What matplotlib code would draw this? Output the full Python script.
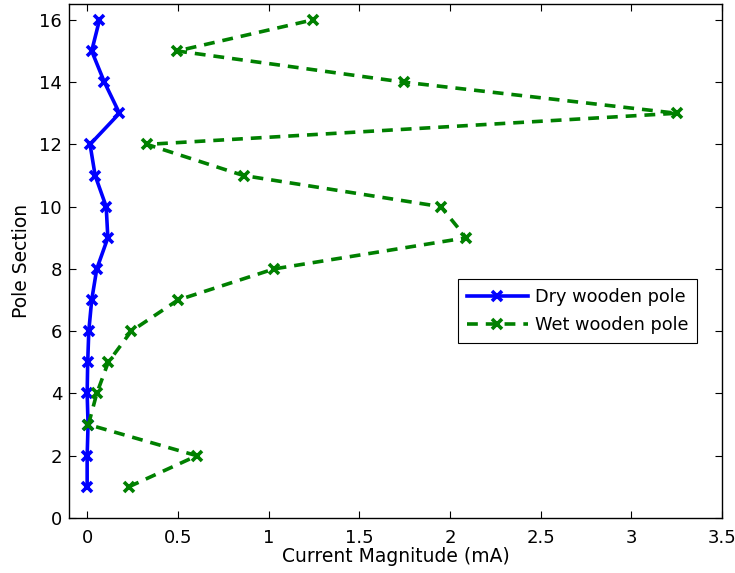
import matplotlib
matplotlib.use('Agg')
import matplotlib.pyplot as plt

plt.rcParams['font.family'] = ['DejaVu Sans']

sections = list(range(1, 17))
dry = [0.0, 0.0, 0.005, 0.0, 0.003, 0.009, 0.025, 0.053,
       0.114, 0.105, 0.044, 0.016, 0.178, 0.095, 0.025, 0.068]
wet = [0.229, 0.605, 0.007, 0.053, 0.116, 0.243, 0.50, 1.03,
       2.09, 1.95, 0.862, 0.33, 3.25, 1.745, 0.496, 1.244]

fig = plt.figure(figsize=(7.35, 5.73), dpi=100)
ax = fig.add_axes([0.0939, 0.096, 0.8884, 0.8965])

ax.plot(dry, sections, color='#0000ff', lw=2.6, marker='x', ms=7.5, mew=2.6,
        label='Dry wooden pole')
ax.plot(wet, sections, color='#008000', lw=2.6, ls='--', dashes=(3.0, 2.2),
        marker='x', ms=7.5, mew=2.6, label='Wet wooden pole')

ax.set_xlim(-0.1, 3.5)
ax.set_ylim(0, 16.5)
ax.set_xticks([0, 0.5, 1, 1.5, 2, 2.5, 3, 3.5])
ax.set_xticklabels(['0', '0.5', '1', '1.5', '2', '2.5', '3', '3.5'])
ax.set_yticks(range(0, 17, 2))
ax.tick_params(direction='in', top=True, right=True, length=5, width=0.8,
               labelsize=13)
ax.tick_params(axis='x', pad=8)
ax.tick_params(axis='y', pad=5)
for s in ax.spines.values():
    s.set_linewidth(1.0)

ax.set_xlabel('Current Magnitude (mA)', fontsize=13.5, labelpad=0)
ax.set_ylabel('Pole Section', fontsize=13.5, labelpad=6)

leg = ax.legend(loc='lower left', bbox_to_anchor=(0.596, 0.34), borderaxespad=0,
                fontsize=12.8, fancybox=False, edgecolor='black', framealpha=1,
                handlelength=3.4, handletextpad=0.4, borderpad=0.5,
                labelspacing=0.6)
leg.get_frame().set_linewidth(0.8)

fig.savefig('out.png', dpi=100)
